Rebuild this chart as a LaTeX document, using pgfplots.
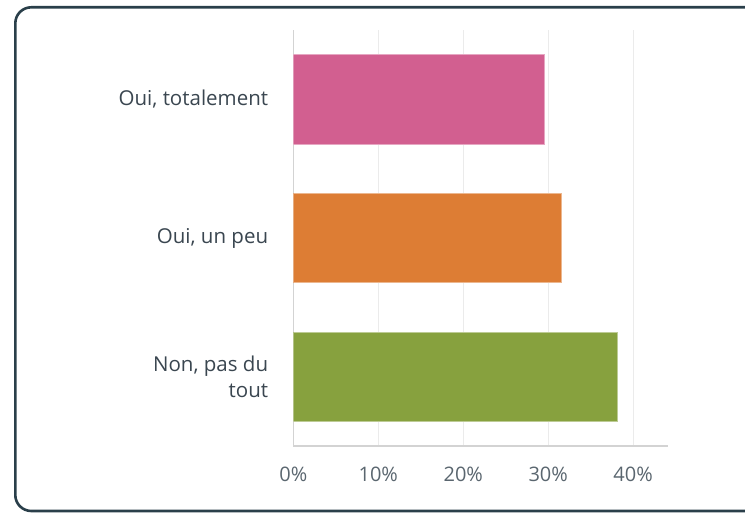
\documentclass[border=0pt]{standalone}
\usepackage{pgfplots}
\pgfplotsset{compat=1.18}
\usepackage{fontspec}
\setmainfont{Open Sans}
\definecolor{cpink}{HTML}{D25F90}
\definecolor{corange}{HTML}{DD7D34}
\definecolor{cgreen}{HTML}{87A13E}
\definecolor{cframe}{HTML}{2A3F4A}
\definecolor{clabel}{HTML}{3A4650}
\definecolor{ctick}{HTML}{5A666F}
\definecolor{cgrid}{HTML}{EBEBEB}
\definecolor{caxis}{HTML}{D3D3D3}
\begin{document}
\begin{tikzpicture}[x=1pt,y=1pt]
\path[use as bounding box] (0,0) rectangle (745,512);
\draw[cframe, line width=2.6pt, rounded corners=16pt] (15.3,1) rectangle (790,504.7);
\begin{axis}[
  at={(293.3pt,66pt)}, anchor=south west,
  scale only axis, width=374.7pt, height=416pt,
  xbar, bar shift=0pt, bar width=0.645,
  xmin=0, xmax=44.1, ymin=-0.5, ymax=2.5,
  y dir=reverse,
  ytick={0,1,2},
  yticklabels={{Oui, totalement},{Oui, un peu},{Non, pas du\\tout}},
  xtick={0,10,20,30,40},
  xticklabel={\pgfmathprintnumber{\tick}\%},
  /pgf/number format/assume math mode=true,
  major tick length=0pt,
  xmajorgrids, grid style={cgrid, line width=1.2pt},
  axis x line*=bottom, axis y line*=left,
  axis line style={caxis, line width=1.2pt, -},
  xticklabel style={font=\fontsize{20}{24}\selectfont, text=ctick, anchor=north, yshift=-17pt},
  yticklabel style={font=\fontsize{20.5}{26}\selectfont, text=clabel, align=right, anchor=east, inner sep=0pt, xshift=-25pt},
]
\addplot[fill=cpink, draw=cpink!55!white, line width=0.8pt] coordinates {(29.6,0)};
\addplot[fill=corange, draw=corange!55!white, line width=0.8pt] coordinates {(31.6,1)};
\addplot[fill=cgreen, draw=cgreen!55!white, line width=0.8pt] coordinates {(38.2,2)};
\end{axis}
\end{tikzpicture}
\end{document}
